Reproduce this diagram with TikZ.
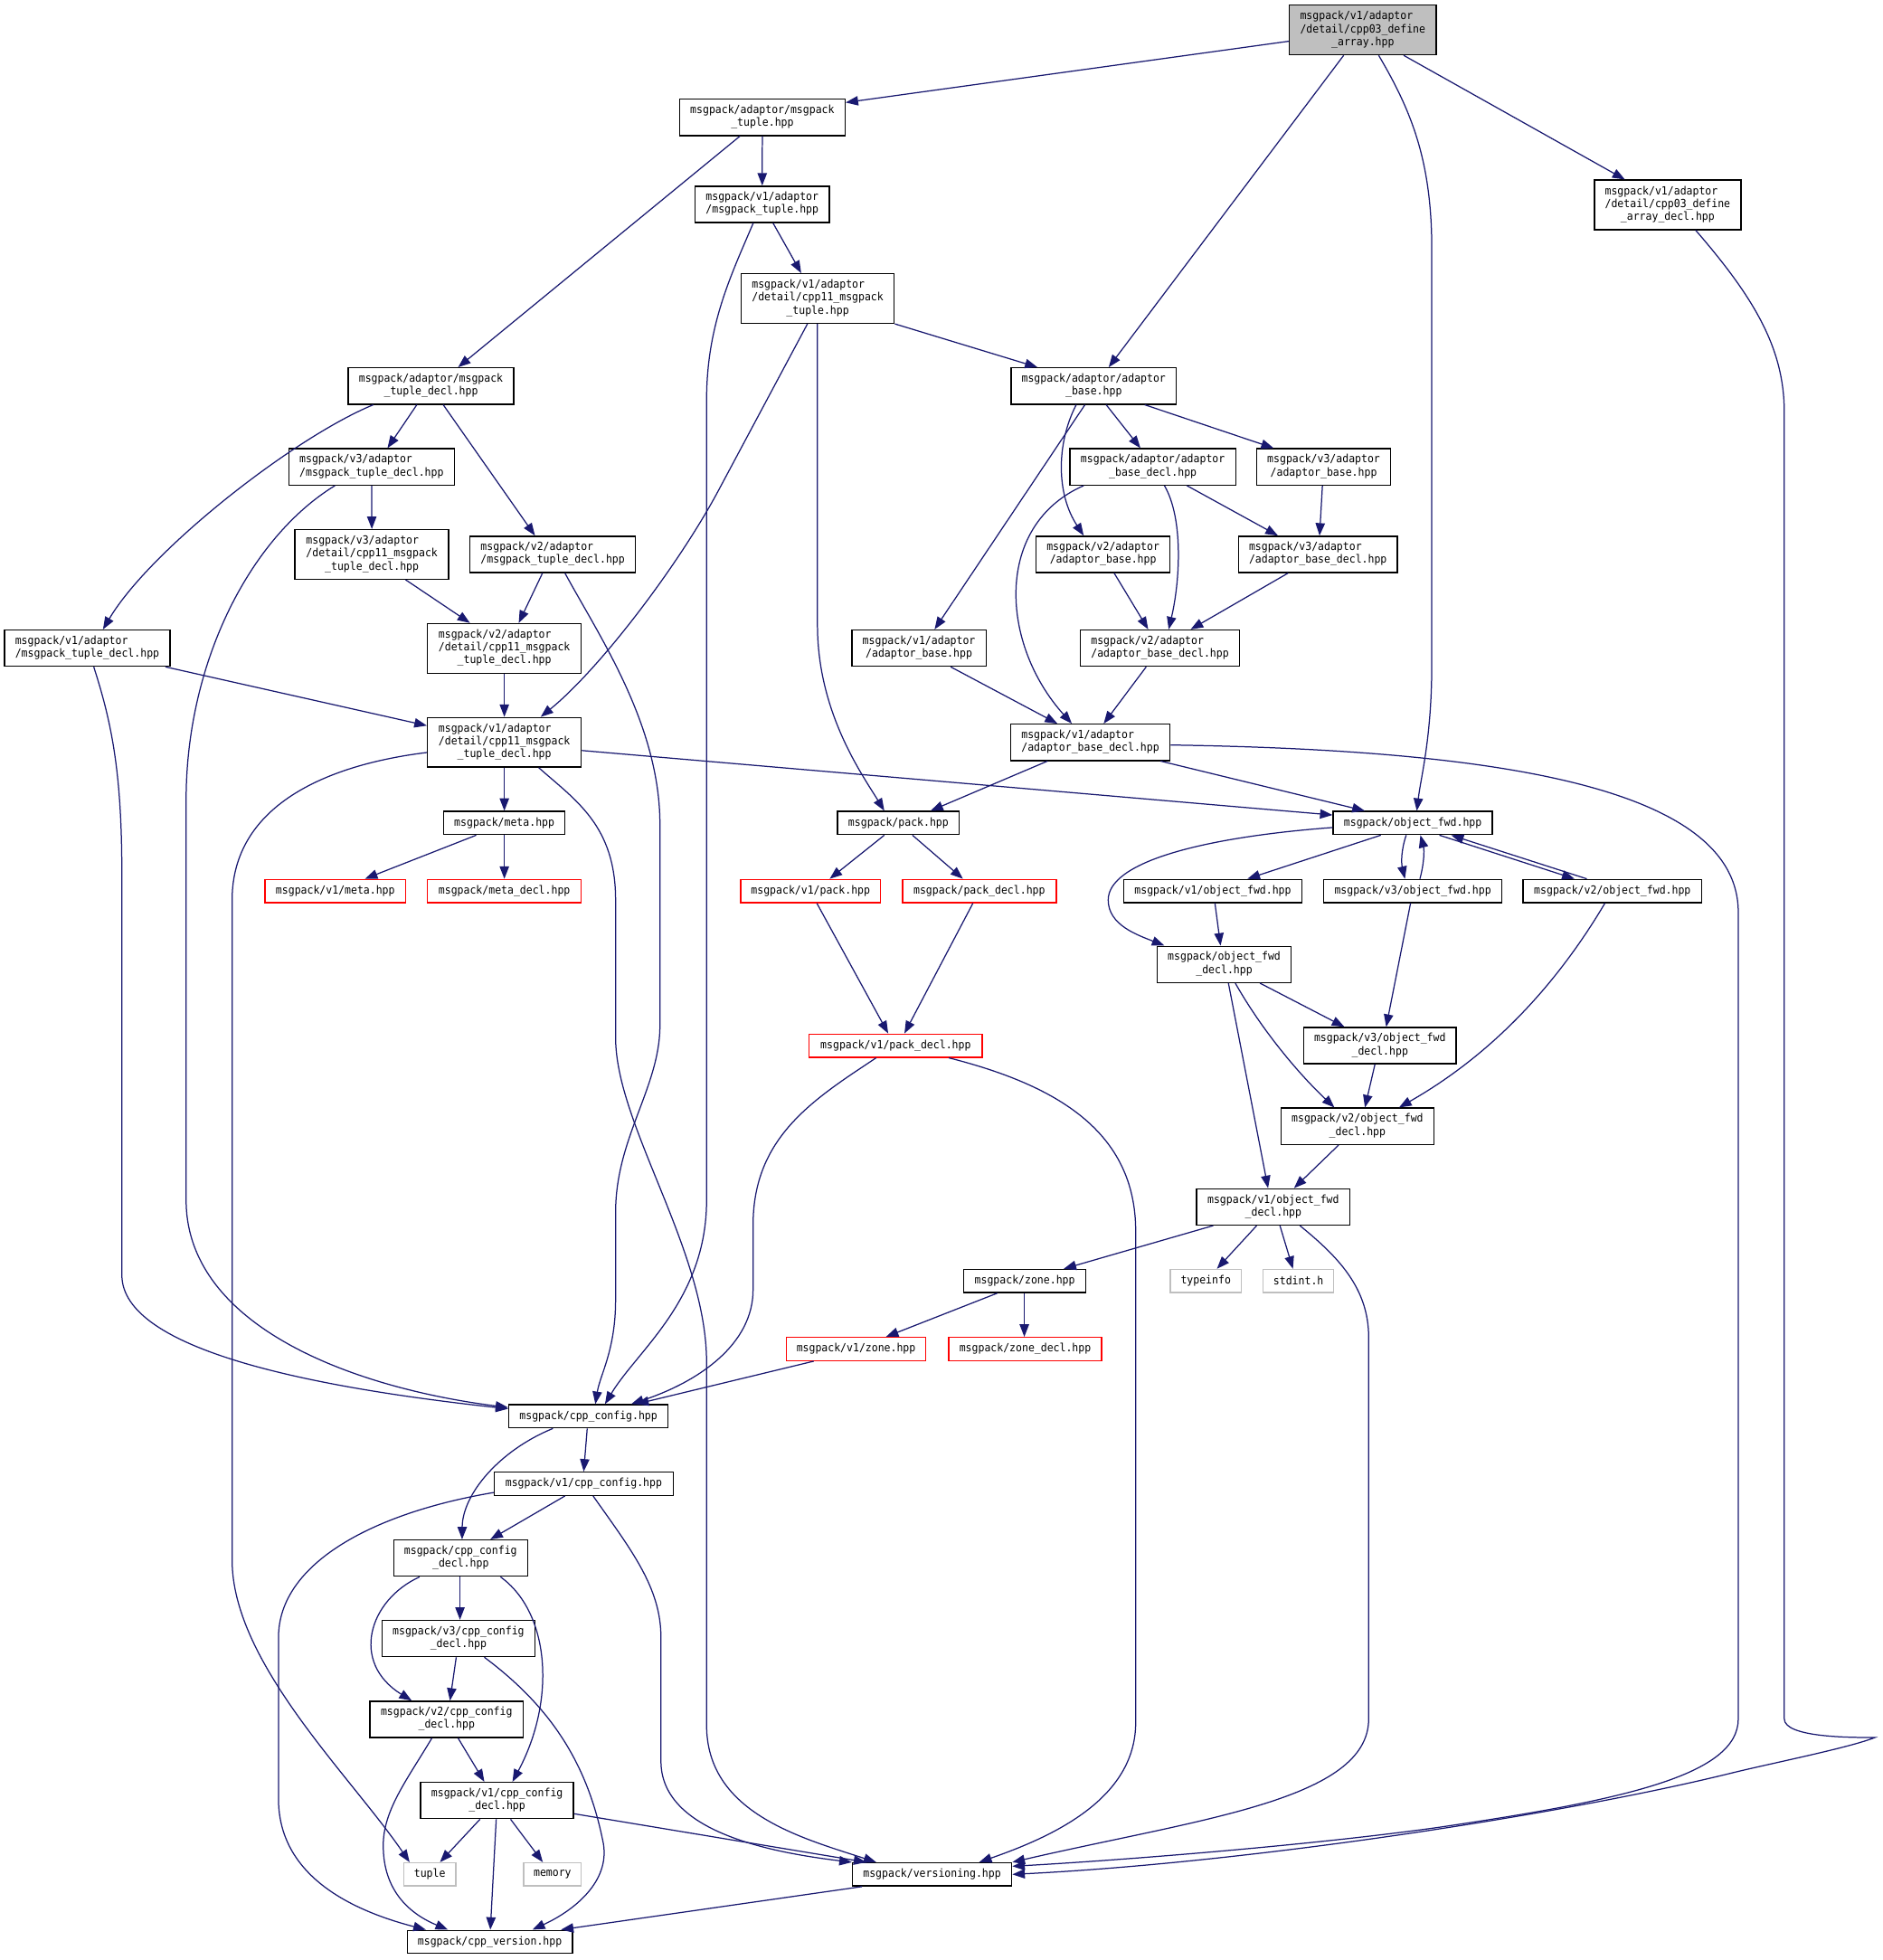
\documentclass[tikz,border=0pt]{standalone}
\usepackage{fontspec}
\usepackage{tikz}
\usetikzlibrary{arrows.meta,calc}
\newfontfamily\graphmono[FakeStretch=0.925]{DejaVu Sans Mono}
\newcommand{\depfont}{\fontsize{9}{10.3}\selectfont\graphmono}
% wrapped label: first lines left, last line centred
\newcommand{\wrapped}[2]{\begin{tabular}{@{}l@{}}#1\\\multicolumn{1}{@{}c@{}}{#2}\end{tabular}}
\definecolor{edgeblue}{RGB}{25,25,112}
\definecolor{grey75}{RGB}{191,191,191}
\tikzset{
    hdr/.style={draw=black,fill=white,line width=1pt,inner sep=0pt,font=\depfont},
    rootinc/.style={hdr,fill=grey75},
    undoc/.style={hdr,draw=red},
    sysinc/.style={hdr,draw=grey75},
    h1/.style={minimum height=18.5pt},
    h2/.style={minimum height=29pt},
    h3/.style={minimum height=39.6pt},
    dep/.style={draw=edgeblue,line width=0.9pt,-{Triangle[length=10pt,width=7.5pt]},fill=none},
  }

\begin{document}
\begin{tikzpicture}[x=1pt,y=-1pt]
  \useasboundingbox (0,0) rectangle (1506,1568);
  % files
  \node[rootinc,h3,minimum width=117.5pt] (root) at (1090.3,24) {\wrapped{msgpack/v1/adaptor\\/detail/cpp03\_define}{\_array.hpp}};
  \node[hdr,h2,minimum width=132.3pt] (mtuple) at (609.9,93.9) {\wrapped{msgpack/adaptor/msgpack}{\_tuple.hpp}};
  \node[hdr,h2,minimum width=107.2pt] (v1mtuple) at (609.8,163.5) {\wrapped{msgpack/v1/adaptor}{/msgpack\_tuple.hpp}};
  \node[hdr,h3,minimum width=122.4pt] (v1cpptuple) at (654.2,238.8) {\wrapped{msgpack/v1/adaptor\\/detail/cpp11\_msgpack}{\_tuple.hpp}};
  \node[hdr,h3,minimum width=117.2pt] (arraydecl) at (1334.2,163.9) {\wrapped{msgpack/v1/adaptor\\/detail/cpp03\_define}{\_array\_decl.hpp}};
  \node[hdr,h2,minimum width=132pt] (abase) at (875,308.8) {\wrapped{msgpack/adaptor/adaptor}{\_base.hpp}};
  \node[hdr,h2,minimum width=132.7pt] (abasedecl) at (922.3,373.5) {\wrapped{msgpack/adaptor/adaptor}{\_base\_decl.hpp}};
  \node[hdr,h2,minimum width=107pt] (v3abase) at (1059,373.5) {\wrapped{msgpack/v3/adaptor}{/adaptor\_base.hpp}};
  \node[hdr,h2,minimum width=107pt] (v2abase) at (882.5,443.5) {\wrapped{msgpack/v2/adaptor}{/adaptor\_base.hpp}};
  \node[hdr,h2,minimum width=127.3pt] (v3abasedecl) at (1054.4,443.5) {\wrapped{msgpack/v3/adaptor}{/adaptor\_base\_decl.hpp}};
  \node[hdr,h2,minimum width=107.3pt] (v1abase) at (735.2,518.5) {\wrapped{msgpack/v1/adaptor}{/adaptor\_base.hpp}};
  \node[hdr,h2,minimum width=127.3pt] (v2abasedecl) at (928,518.5) {\wrapped{msgpack/v2/adaptor}{/adaptor\_base\_decl.hpp}};
  \node[hdr,h2,minimum width=127.5pt] (v1abasedecl) at (872.3,593.9) {\wrapped{msgpack/v1/adaptor}{/adaptor\_base\_decl.hpp}};
  \node[hdr,h2,minimum width=132.5pt] (mtupledecl) at (344.8,308.8) {\wrapped{msgpack/adaptor/msgpack}{\_tuple\_decl.hpp}};
  \node[hdr,h2,minimum width=132.6pt] (v3mtupledecl) at (297.3,373.5) {\wrapped{msgpack/v3/adaptor}{/msgpack\_tuple\_decl.hpp}};
  \node[hdr,h3,minimum width=123pt] (v3cppdecl) at (297.5,443.5) {\wrapped{msgpack/v3/adaptor\\/detail/cpp11\_msgpack}{\_tuple\_decl.hpp}};
  \node[hdr,h2,minimum width=132.6pt] (v2mtupledecl) at (442.2,443.5) {\wrapped{msgpack/v2/adaptor}{/msgpack\_tuple\_decl.hpp}};
  \node[hdr,h2,minimum width=132.5pt] (v1mtupledecl) at (69.8,518.5) {\wrapped{msgpack/v1/adaptor}{/msgpack\_tuple\_decl.hpp}};
  \node[hdr,h3,minimum width=123pt] (v2cppdecl) at (403.5,518.7) {\wrapped{msgpack/v2/adaptor\\/detail/cpp11\_msgpack}{\_tuple\_decl.hpp}};
  \node[hdr,h3,minimum width=123pt] (v1cppdecl) at (403.5,593.8) {\wrapped{msgpack/v1/adaptor\\/detail/cpp11\_msgpack}{\_tuple\_decl.hpp}};
  \node[hdr,h1,minimum width=97pt] (meta) at (403.5,658.4) {msgpack/meta.hpp};
  \node[undoc,h1,minimum width=112.5pt] (v1meta) at (268.3,712.8) {msgpack/v1/meta.hpp};
  \node[undoc,h1,minimum width=123pt] (metadecl) at (403.5,712.8) {msgpack/meta\_decl.hpp};
  \node[hdr,h1,minimum width=97.5pt] (pack) at (718.8,658.4) {msgpack/pack.hpp};
  \node[undoc,h1,minimum width=112pt] (v1pack) at (648.5,712.8) {msgpack/v1/pack.hpp};
  \node[undoc,h1,minimum width=123pt] (packdecl) at (783.5,712.8) {msgpack/pack\_decl.hpp};
  \node[undoc,h1,minimum width=138.4pt] (v1packdecl) at (716.6,836.5) {msgpack/v1/pack\_decl.hpp};
  \node[hdr,h1,minimum width=127.4pt] (objfwd) at (1130.3,658.4) {msgpack/object\_fwd.hpp};
  \node[hdr,h1,minimum width=142.6pt] (v1objfwd) at (970.3,712.8) {msgpack/v1/object\_fwd.hpp};
  \node[hdr,h1,minimum width=142.5pt] (v3objfwd) at (1130.3,712.8) {msgpack/v3/object\_fwd.hpp};
  \node[hdr,h1,minimum width=143pt] (v2objfwd) at (1290,712.8) {msgpack/v2/object\_fwd.hpp};
  \node[hdr,h2,minimum width=106.8pt] (objfwddecl) at (979.4,771.5) {\wrapped{msgpack/object\_fwd}{\_decl.hpp}};
  \node[hdr,h2,minimum width=122pt] (v3objfwddecl) at (1104,836.5) {\wrapped{msgpack/v3/object\_fwd}{\_decl.hpp}};
  \node[hdr,h2,minimum width=122pt] (v2objfwddecl) at (1086,901) {\wrapped{msgpack/v2/object\_fwd}{\_decl.hpp}};
  \node[hdr,h2,minimum width=122.7pt] (v1objfwddecl) at (1018.7,965.5) {\wrapped{msgpack/v1/object\_fwd}{\_decl.hpp}};
  \node[hdr,h1,minimum width=97.7pt] (zone) at (819.9,1024.8) {msgpack/zone.hpp};
  \node[sysinc,h1,minimum width=56.7pt] (typeinfo) at (964.7,1024.8) {typeinfo};
  \node[sysinc,h1,minimum width=56.5pt] (stdint) at (1038.8,1024.8) {stdint.h};
  \node[undoc,h1,minimum width=111.7pt] (v1zone) at (684.9,1079.2) {msgpack/v1/zone.hpp};
  \node[undoc,h1,minimum width=122.4pt] (zonedecl) at (820.2,1079.2) {msgpack/zone\_decl.hpp};
  \node[hdr,h1,minimum width=127.5pt] (cppconfig) at (470.8,1133) {msgpack/cpp\_config.hpp};
  \node[hdr,h1,minimum width=143pt] (v1cppconfig) at (467,1187) {msgpack/v1/cpp\_config.hpp};
  \node[hdr,h2,minimum width=107pt] (cppconfigdecl) at (368.5,1246.5) {\wrapped{msgpack/cpp\_config}{\_decl.hpp}};
  \node[hdr,h2,minimum width=122.5pt] (v3cppconfigdecl) at (366.8,1310.8) {\wrapped{msgpack/v3/cpp\_config}{\_decl.hpp}};
  \node[hdr,h2,minimum width=122.5pt] (v2cppconfigdecl) at (357.3,1375.5) {\wrapped{msgpack/v2/cpp\_config}{\_decl.hpp}};
  \node[hdr,h2,minimum width=122.3pt] (v1cppconfigdecl) at (397.7,1440.4) {\wrapped{msgpack/v1/cpp\_config}{\_decl.hpp}};
  \node[sysinc,h1,minimum width=41.6pt] (tuple) at (343.8,1499.5) {tuple};
  \node[sysinc,h1,minimum width=46pt] (memory) at (442,1499.5) {memory};
  \node[hdr,h1,minimum width=127.4pt] (versioning) at (745.7,1499.5) {msgpack/versioning.hpp};
  \node[hdr,h1,minimum width=132.2pt] (cppversion) at (391.9,1553.5) {msgpack/cpp\_version.hpp};

  % includes of the root file
  \draw[dep] (root.west |- 0,33) -- (mtuple.east |- 0,82);
  \draw[dep] (1075,0 |- root.south) -- (887,0 |- abase.north);
  \draw[dep] (1103,0 |- root.south) .. controls (1130,90) and (1145.5,130) .. (1145.5,200) -- (1145.5,530) .. controls (1145.5,590) and (1137,620) .. (1133.5,0 |- objfwd.north);
  \draw[dep] (1123,0 |- root.south) -- (1300,0 |- arraydecl.north);
  \draw[dep] (1356.6,0 |- arraydecl.south) .. controls (1405,240) and (1427.5,280) .. (1427.5,330) -- (1427.5,1375) .. controls (1427.5,1390) and (1480,1390) .. (1500,1390) .. controls (1480,1398) and (1420,1410) .. (1387,1418) .. controls (1250,1452) and (1000,1490) .. (versioning.east);
  % msgpack_tuple
  \draw[dep] (mtuple.south) -- (v1mtuple.north);
  \draw[dep] (592,0 |- mtuple.south) -- (366.5,0 |- mtupledecl.north);
  \draw[dep] (618.5,0 |- v1mtuple.south) -- (641,0 |- v1cpptuple.north);
  \draw[dep] (602.6,0 |- v1mtuple.south) .. controls (585,220) and (565.3,260) .. (565.3,320) -- (565.3,960) .. controls (565.3,1040) and (510,1080) .. (484,0 |- cppconfig.north);
  \draw[dep] (v1cpptuple.south east) -- (830,0 |- abase.north);
  \draw[dep] (654,0 |- v1cpptuple.south) -- (654,500) .. controls (654,570) and (690,620) .. (707.5,0 |- pack.north);
  \draw[dep] (646,0 |- v1cpptuple.south) -- (575,392) .. controls (543,452) and (480,535) .. (432.6,0 |- v1cppdecl.north);
  % adaptor_base
  \draw[dep] (885,0 |- abase.south) -- (912.4,0 |- abasedecl.north);
  \draw[dep] (915.8,0 |- abase.south) -- (1019,0 |- v3abase.north);
  \draw[dep] (868,0 |- abase.south) -- (747.7,0 |- v1abase.north);
  \draw[dep] (861,0 |- abase.south) .. controls (845,355) and (845,395) .. (867,0 |- v2abase.north);
  \draw[dep] (867,0 |- abasedecl.south) .. controls (795,420) and (800,515) .. (857.5,0 |- v1abasedecl.north);
  \draw[dep] (931.6,0 |- abasedecl.south) .. controls (947,415) and (944,465) .. (935,0 |- v2abasedecl.north);
  \draw[dep] (949.6,0 |- abasedecl.south) -- (1022.4,0 |- v3abasedecl.north);
  \draw[dep] (1058,0 |- v3abase.south) -- (1055.7,0 |- v3abasedecl.north);
  \draw[dep] (1030.5,0 |- v3abasedecl.south) -- (952.6,0 |- v2abasedecl.north);
  \draw[dep] (891.4,0 |- v2abase.south) -- (918.6,0 |- v2abasedecl.north);
  \draw[dep] (760.6,0 |- v1abase.south) -- (846,0 |- v1abasedecl.north);
  \draw[dep] (917,0 |- v2abasedecl.south) -- (883,0 |- v1abasedecl.north);
  \draw[dep] (838,0 |- v1abasedecl.south) -- (744.5,0 |- pack.north);
  \draw[dep] (928.6,0 |- v1abasedecl.south) -- (1091.9,0 |- objfwd.north);
  \draw[dep] (v1abasedecl.east |- 0,596) .. controls (1200,600) and (1390.7,630) .. (1390.7,730) -- (1390.7,1375) .. controls (1390.7,1420) and (1300,1440) .. (1150,1462) .. controls (1050,1476) and (900,1488) .. (versioning.east |- 0,1493);
  % msgpack_tuple_decl
  \draw[dep] (333.5,0 |- mtupledecl.south) -- (310,0 |- v3mtupledecl.north);
  \draw[dep] (354.6,0 |- mtupledecl.south) -- (428,0 |- v2mtupledecl.north);
  \draw[dep] (298.7,0 |- mtupledecl.south) .. controls (235,350) and (120,440) .. (82.4,0 |- v1mtupledecl.north);
  \draw[dep] (v3mtupledecl.south) -- (v3cppdecl.north);
  \draw[dep] (268,0 |- v3mtupledecl.south) .. controls (200,430) and (148.9,530) .. (148.9,640) -- (148.9,960) .. controls (148.9,1060) and (280,1110) .. (cppconfig.west |- 0,1126);
  \draw[dep] (324.5,0 |- v3cppdecl.south) -- (376,0 |- v2cppdecl.north);
  \draw[dep] (434,0 |- v2mtupledecl.south) -- (415,0 |- v2cppdecl.north);
  \draw[dep] (452,0 |- v2mtupledecl.south) .. controls (480,510) and (528,580) .. (528,660) -- (528,820) .. controls (528,870) and (492.5,910) .. (492.5,970) -- (492.5,1040) .. controls (492.5,1080) and (480,1100) .. (476.3,0 |- cppconfig.north);
  \draw[dep] (v2cppdecl.south) -- (v1cppdecl.north);
  \draw[dep] (132.4,0 |- v1mtupledecl.south) -- (v1cppdecl.west |- 0,580.5);
  \draw[dep] (75,0 |- v1mtupledecl.south) .. controls (90,580) and (97.5,620) .. (97.5,700) -- (97.5,1020) .. controls (97.5,1080) and (250,1110) .. (cppconfig.west |- 0,1127);
  % cpp11_msgpack_tuple_decl
  \draw[dep] (v1cppdecl.south) -- (meta.north);
  \draw[dep] (v1cppdecl.east |- 0,600.4) -- (objfwd.west |- 0,652);
  \draw[dep] (v1cppdecl.west |- 0,602) .. controls (260,612) and (185.7,645) .. (185.7,720) -- (185.7,1248) .. controls (185.7,1330) and (280,1420) .. (327.7,0 |- tuple.north);
  \draw[dep] (431,0 |- v1cppdecl.south) .. controls (460,640) and (492.5,660) .. (492.5,720) -- (492.5,830) .. controls (492.5,900) and (565.3,1000) .. (565.3,1090) -- (565.3,1380) .. controls (565.3,1450) and (640,1470) .. (701,0 |- versioning.north);
  \draw[dep] (381,0 |- meta.south) -- (292,0 |- v1meta.north);
  \draw[dep] (meta.south) -- (metadecl.north);
  % pack
  \draw[dep] (707.5,0 |- pack.south) -- (663.8,0 |- v1pack.north);
  \draw[dep] (730,0 |- pack.south) -- (770.4,0 |- packdecl.north);
  \draw[dep] (653.5,0 |- v1pack.south) -- (710.6,0 |- v1packdecl.north);
  \draw[dep] (778.4,0 |- packdecl.south) -- (723.6,0 |- v1packdecl.north);
  \draw[dep] (701,0 |- v1packdecl.south) .. controls (650,880) and (602.5,910) .. (602.5,980) -- (602.5,1031.7) .. controls (602.5,1075) and (560,1105) .. (505,0 |- cppconfig.north);
  \draw[dep] (759,0 |- v1packdecl.south) .. controls (845,868) and (908.6,905) .. (908.6,985) -- (908.6,1378) .. controls (908.6,1440) and (840,1470) .. (783.4,0 |- versioning.north);
  % object_fwd
  \draw[dep] (1104.7,0 |- objfwd.south) -- (998,0 |- v1objfwd.north);
  \draw[dep] (1125,0 |- objfwd.south) .. controls (1121,680) and (1121,690) .. (1124,0 |- v3objfwd.north);
  \draw[dep] (1136,0 |- v3objfwd.north) .. controls (1139.5,690) and (1139.5,680) .. (1136.4,0 |- objfwd.south);
  \draw[dep] (1151.6,0 |- objfwd.south) -- (1259.7,0 |- v2objfwd.north);
  \draw[dep] (1269.5,0 |- v2objfwd.north) -- (1161,0 |- objfwd.south);
  \draw[dep] (objfwd.west |- 0,662) .. controls (960,670) and (886.6,690) .. (886.6,720) .. controls (886.6,740) and (910,748) .. (931.6,0 |- objfwddecl.north);
  \draw[dep] (972,0 |- v1objfwd.south) -- (976.5,0 |- objfwddecl.north);
  \draw[dep] (1128.5,0 |- v3objfwd.south) -- (1109,0 |- v3objfwddecl.north);
  \draw[dep] (1284,0 |- v2objfwd.south) .. controls (1250,780) and (1200,840) .. (1119.3,0 |- v2objfwddecl.north);
  \draw[dep] (1008,0 |- objfwddecl.south) -- (1075.6,0 |- v3objfwddecl.north);
  \draw[dep] (988.3,0 |- objfwddecl.south) .. controls (1010,825) and (1040,860) .. (1067.6,0 |- v2objfwddecl.north);
  \draw[dep] (982.8,0 |- objfwddecl.south) -- (1014.5,0 |- v1objfwddecl.north);
  \draw[dep] (1100,0 |- v3objfwddecl.south) -- (1092,0 |- v2objfwddecl.north);
  \draw[dep] (1071,0 |- v2objfwddecl.south) -- (1035.3,0 |- v1objfwddecl.north);
  \draw[dep] (970.6,0 |- v1objfwddecl.south) -- (851,0 |- zone.north);
  \draw[dep] (1005.4,0 |- v1objfwddecl.south) -- (973.6,0 |- typeinfo.north);
  \draw[dep] (1024,0 |- v1objfwddecl.south) -- (1034.4,0 |- stdint.north);
  \draw[dep] (1040,0 |- v1objfwddecl.south) .. controls (1070,1005) and (1095,1030) .. (1095,1070) -- (1095,1375) .. controls (1095,1440) and (960,1455) .. (versioning.north east);
  % zone
  \draw[dep] (797.8,0 |- zone.south) -- (708.8,0 |- v1zone.north);
  \draw[dep] (819.5,0 |- zone.south) -- (819.5,0 |- zonedecl.north);
  \draw[dep] (651,0 |- v1zone.south) -- (509,0 |- cppconfig.north);
  % cpp_config
  \draw[dep] (469.8,0 |- cppconfig.south) -- (467,0 |- v1cppconfig.north);
  \draw[dep] (442.4,0 |- cppconfig.south) .. controls (400,1160) and (370,1195) .. (369.7,0 |- cppconfigdecl.north);
  \draw[dep] (452,0 |- v1cppconfig.south) -- (392.3,0 |- cppconfigdecl.north);
  \draw[dep] (v1cppconfig.west |- 0,1194) .. controls (300,1210) and (222.8,1250) .. (222.8,1310) -- (222.8,1439) .. controls (222.8,1500) and (280,1528) .. (340.7,0 |- cppversion.north);
  \draw[dep] (474.5,0 |- v1cppconfig.south) .. controls (505,1240) and (528.8,1270) .. (528.8,1310) -- (528.8,1409) .. controls (528.8,1460) and (600,1480) .. (versioning.north west);
  \draw[dep] (368,0 |- cppconfigdecl.south) -- (368,0 |- v3cppconfigdecl.north);
  \draw[dep] (335.7,0 |- cppconfigdecl.south) .. controls (295,1280) and (280,1330) .. (329.4,0 |- v2cppconfigdecl.north);
  \draw[dep] (400.4,0 |- cppconfigdecl.south) .. controls (440,1290) and (445,1360) .. (410,0 |- v1cppconfigdecl.north);
  \draw[dep] (365,0 |- v3cppconfigdecl.south) -- (360,0 |- v2cppconfigdecl.north);
  \draw[dep] (387.5,0 |- v3cppconfigdecl.south) .. controls (440,1365) and (470,1410) .. (482.7,1474.7) .. controls (488,1505) and (460,1528) .. (426,0 |- cppversion.north);
  \draw[dep] (366.5,0 |- v2cppconfigdecl.south) -- (387.5,0 |- v1cppconfigdecl.north);
  \draw[dep] (345.5,0 |- v2cppconfigdecl.south) .. controls (325,1425) and (305,1450) .. (306.7,1480) .. controls (308,1515) and (330,1532) .. (358.4,0 |- cppversion.north);
  \draw[dep] (384,0 |- v1cppconfigdecl.south) -- (352,0 |- tuple.north);
  \draw[dep] (408.5,0 |- v1cppconfigdecl.south) -- (434.3,0 |- memory.north);
  \draw[dep] (397,0 |- v1cppconfigdecl.south) -- (392.3,0 |- cppversion.north);
  \draw[dep] (v1cppconfigdecl.east |- 0,1451) -- (693,0 |- versioning.north);
  \draw[dep] (689.6,0 |- versioning.south) -- (448.8,0 |- cppversion.north);
\end{tikzpicture}
\end{document}
